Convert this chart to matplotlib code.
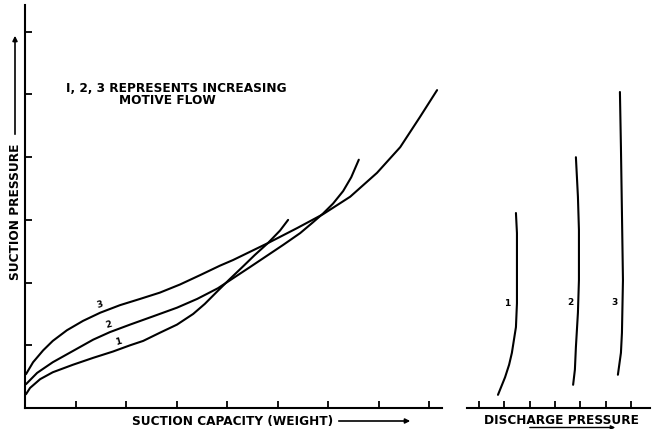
import matplotlib
matplotlib.use("Agg")
import matplotlib.pyplot as plt
from matplotlib.patches import FancyArrowPatch

# ---- data ----
# left panel: suction pressure vs suction capacity, curves 1..3
c1_x = [0.02, 0.10, 0.30, 0.55, 0.95, 1.35, 1.74, 2.08, 2.34, 2.67, 3.01, 3.33,
        3.56, 3.82, 4.06, 4.32, 4.55, 4.81, 5.05, 5.21]
c1_y = [0.22, 0.32, 0.46, 0.57, 0.69, 0.80, 0.90, 1.00, 1.07, 1.20, 1.33, 1.50,
        1.66, 1.87, 2.06, 2.26, 2.44, 2.63, 2.83, 3.00]
c2_x = [0.02, 0.24, 0.55, 0.95, 1.35, 1.68, 2.08, 2.53, 3.01, 3.41, 3.82, 4.46,
        5.11, 5.45, 5.70, 5.90, 6.10, 6.30, 6.46, 6.61]
c2_y = [0.38, 0.56, 0.73, 0.91, 1.09, 1.21, 1.33, 1.46, 1.60, 1.74, 1.91, 2.25,
        2.60, 2.79, 2.96, 3.10, 3.26, 3.46, 3.68, 3.96]
c3_x = [0.02, 0.16, 0.36, 0.55, 0.83, 1.15, 1.49, 1.88, 2.28, 2.67, 3.07, 3.47,
        3.86, 4.12, 4.81, 5.39, 5.90, 6.44, 6.97, 7.43, 7.82, 8.16]
c3_y = [0.54, 0.73, 0.92, 1.07, 1.24, 1.39, 1.52, 1.64, 1.74, 1.84, 1.97, 2.12,
        2.27, 2.36, 2.63, 2.87, 3.09, 3.37, 3.75, 4.16, 4.64, 5.07]

# right panel: suction pressure vs discharge pressure
d1_x = [1.75, 1.89, 2.03, 2.19, 2.30, 2.46, 2.50, 2.50, 2.50, 2.46]
d1_y = [0.21, 0.35, 0.49, 0.69, 0.88, 1.29, 1.67, 2.31, 2.79, 3.11]
d2_x = [4.72, 4.79, 4.83, 4.91, 4.95, 4.95, 4.91, 4.83]
d2_y = [0.37, 0.61, 0.97, 1.52, 2.04, 2.84, 3.37, 4.00]
d3_x = [6.49, 6.61, 6.65, 6.69, 6.65, 6.61, 6.57]
d3_y = [0.53, 0.88, 1.20, 2.04, 3.11, 4.16, 5.04]

left_xticks = [1, 2, 3, 4, 5, 6, 7, 8]
left_yticks = [1, 2, 3, 4, 5, 6]
right_xticks = [1, 2, 3, 4, 5, 6, 7]

curve_labels = ["1", "2", "3"]
left_label_pos = [(1.84, 1.06), (1.66, 1.33), (1.49, 1.64)]
right_label_pos = [(2.11, 1.67), (4.60, 1.69), (6.34, 1.69)]

note_line1 = "I, 2, 3 REPRESENTS INCREASING"
note_line2 = "MOTIVE FLOW"
ylabel = "SUCTION PRESSURE"
xlabel_left = "SUCTION CAPACITY (WEIGHT)"
xlabel_right = "DISCHARGE PRESSURE"

# ---- figure ----
W, H = 652, 429
fig = plt.figure(figsize=(W / 100, H / 100), dpi=100)
fig.patch.set_facecolor("white")


def fx(px):
    return px / W


def fy(py):
    return 1 - py / H


LW = 1.5
FS = 8.7
FONT = dict(family="DejaVu Sans", weight="bold", color="black")

# left axes: x 25..442 px, y 5..408 px
axL = fig.add_axes([fx(25), fy(408), (442 - 25) / W, (408 - 5) / H])
axL.set_xlim(0, (442 - 25) / 50.5)
axL.set_ylim(0, (408 - 5) / 62.7)

# right axes: x 467..650 px
axR = fig.add_axes([fx(467), fy(408), (650 - 467) / W, (408 - 5) / H])
axR.set_xlim((467 - 453.7) / 25.3, (650 - 453.7) / 25.3)
axR.set_ylim(0, (408 - 5) / 62.7)

for ax in (axL, axR):
    ax.patch.set_alpha(0)
    for s in ("top", "right"):
        ax.spines[s].set_visible(False)
    ax.spines["bottom"].set_linewidth(LW)
    ax.spines["left"].set_linewidth(LW)
    ax.tick_params(direction="in", length=5, width=1.3, labelbottom=False,
                   labelleft=False, colors="black")

axR.spines["left"].set_visible(False)
axL.set_xticks(left_xticks)
axL.set_yticks(left_yticks)
axR.set_xticks(right_xticks)
axR.set_yticks([])

for xs, ys in ((c1_x, c1_y), (c2_x, c2_y), (c3_x, c3_y)):
    axL.plot(xs, ys, color="black", lw=LW, solid_capstyle="round",
             solid_joinstyle="round", clip_on=False)
for xs, ys in ((d1_x, d1_y), (d2_x, d2_y), (d3_x, d3_y)):
    axR.plot(xs, ys, color="black", lw=LW, solid_capstyle="round",
             solid_joinstyle="round", clip_on=False)

for lab, (x, y) in zip(curve_labels, left_label_pos):
    axL.text(x, y, lab, fontsize=6.5, ha="center", va="center", rotation=15, **FONT)
for lab, (x, y) in zip(curve_labels, right_label_pos):
    axR.text(x, y, lab, fontsize=6.5, ha="center", va="center", **FONT)

# note
fig.text(fx(176.5), fy(89), note_line1, fontsize=FS, ha="center", va="center", **FONT)
fig.text(fx(167.5), fy(101), note_line2, fontsize=FS, ha="center", va="center", **FONT)

# y label + arrow
fig.text(fx(16), fy(212), ylabel, fontsize=FS, rotation=90, ha="center", va="center", **FONT)
fig.add_artist(FancyArrowPatch(
    (fx(15), fy(137)), (fx(15), fy(33)), transform=fig.transFigure,
    arrowstyle="-|>", lw=1.2, color="black", mutation_scale=7))

# x label left + arrow
fig.text(fx(233), fy(421), xlabel_left, fontsize=FS, ha="center", va="center", **FONT)
fig.add_artist(FancyArrowPatch(
    (fx(336), fy(421)), (fx(413), fy(421)), transform=fig.transFigure,
    arrowstyle="-|>", lw=1.2, color="black", mutation_scale=7))

# x label right + underline arrow
fig.text(fx(561.5), fy(420), xlabel_right, fontsize=FS, ha="center", va="center", **FONT)
fig.add_artist(FancyArrowPatch(
    (fx(527), fy(427.5)), (fx(618), fy(427.5)), transform=fig.transFigure,
    arrowstyle="-|>", lw=1.0, color="black", mutation_scale=6))

fig.savefig("out.png", dpi=100, facecolor="white")
